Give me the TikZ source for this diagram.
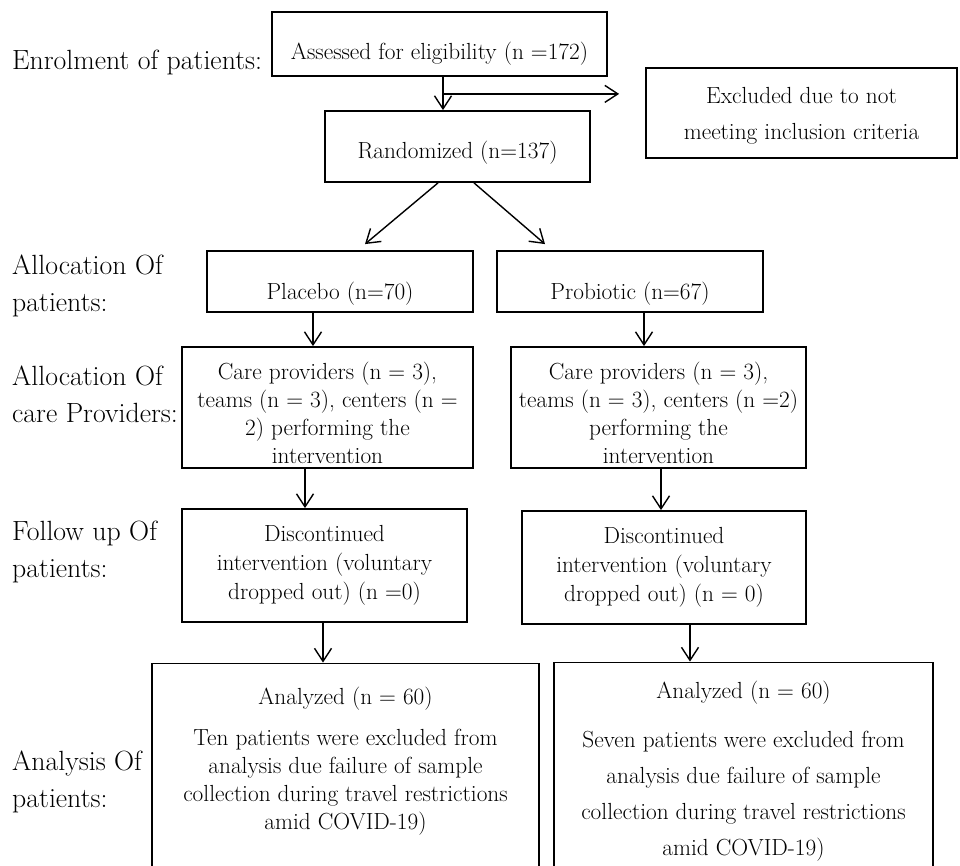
\documentclass[tikz,border=0pt]{standalone}
\usetikzlibrary{arrows.meta}

\begin{document}
\begin{tikzpicture}[x=1pt, y=-1pt, >={Straight Barb[length=13pt,width=17pt]},
  main/.style = {draw, line width=1.8pt, inner sep=0pt, align=center, font=\fontsize{23.3}{28}\selectfont},
  stage/.style = {align=left, anchor=base west, inner sep=0pt, font=\fontsize{27.8}{37}\selectfont},
  link/.style = {->, line width=1.4pt}]
\useasboundingbox (0,0) rectangle (960,866);
\clip (0,0) rectangle (960,866);
% stage labels
\node[stage] (enrol) at (12,70) {Enrolment of patients:};
\node[stage] (allocpat) at (12,312) {Allocation Of\\patients:};
\node[stage] (alloccare) at (12,422) {Allocation Of\\care Providers:};
\node[stage] (follow) at (12,577) {Follow up Of\\patients:};
\node[stage] (analysis) at (12,807) {Analysis Of\\patients:};
% boxes
\node[main, minimum width=335pt, text height=48pt, text depth=16pt] (assess) at (439.5,44) {Assessed for eligibility (n =172)};
\node[main, minimum width=311pt, text height=72pt, text depth=18pt, font=\fontsize{23.3}{36}\selectfont] (excl) at (801.5,113) {Excluded due to not\\meeting inclusion criteria};
\node[main, minimum width=265pt, text height=48pt, text depth=23pt] (rand) at (457.5,146.5) {Randomized (n=137)};
\node[main, minimum width=266pt, text height=49pt, text depth=12pt] (plac) at (340,281.5) {Placebo (n=70)};
\node[main, minimum width=266pt, text height=49pt, text depth=12pt] (prob) at (630,281.5) {Probiotic (n=67)};
\node[main, minimum width=291pt, text height=116pt, text depth=5pt] (care1) at (327.5,407.5) {Care providers (n = 3),\\teams (n = 3), centers (n =\\2) performing the\\intervention};
\node[main, minimum width=295pt, text height=116pt, text depth=5pt] (care2) at (658.5,407.5) {Care providers (n = 3),\\teams (n = 3), centers (n =2)\\performing the\\intervention};
\node[main, minimum width=285pt, text height=90pt, text depth=23pt, font=\fontsize{23.3}{29}\selectfont] (fol1) at (324.5,565.5) {Discontinued\\intervention (voluntary\\dropped out) (n =0)};
\node[main, minimum width=284pt, text height=90pt, text depth=23pt, font=\fontsize{23.3}{29}\selectfont] (fol2) at (664,567.5) {Discontinued\\intervention (voluntary\\dropped out) (n = 0)};
\node[main, minimum width=387pt, text height=165.5pt, text depth=75pt] (ana1) at (345.5,783.75) {Analyzed (n = 60)\\[13pt]Ten patients were excluded from\\analysis due failure of sample\\collection during travel restrictions\\amid COVID-19)};
\node[main, minimum width=379pt, text height=192.5pt, text depth=48pt, font=\fontsize{23.3}{36}\selectfont] (ana2) at (743.5,782.75) {Analyzed (n = 60)\\[13pt]Seven patients were excluded from\\analysis due failure of sample\\collection during travel restrictions\\amid COVID-19)};
% connectors
\coordinate (split) at ([xshift=3.5pt,yshift=-17pt]assess.south);
\draw[link] ([xshift=3.5pt]assess.south) -- ([xshift=3.5pt]assess.south |- rand.north);
\draw[link] (split) -- ([xshift=-26pt]excl.west |- split);
\draw[link] ([xshift=-19.5pt]rand.south) -- ([xshift=25pt,yshift=6pt]plac.north);
\draw[link] ([xshift=16.5pt]rand.south) -- ([xshift=-85pt,yshift=6pt]prob.north);
\draw[link] ([xshift=-27pt]plac.south) -- ([xshift=-27pt]plac.south |- care1.north);
\draw[link] ([xshift=14pt]prob.south) -- ([xshift=14pt]prob.south |- care2.north);
\draw[link] ([xshift=-22.5pt]care1.south) -- ([xshift=-22.5pt]care1.south |- fol1.north);
\draw[link] ([xshift=2.5pt]care2.south) -- ([xshift=2.5pt]care2.south |- fol2.north);
\draw[link] ([xshift=-1.5pt]fol1.south) -- ([xshift=-1.5pt]fol1.south |- ana1.north);
\draw[link] ([xshift=26pt]fol2.south) -- ([xshift=26pt]fol2.south |- ana2.north);
\end{tikzpicture}
\end{document}
